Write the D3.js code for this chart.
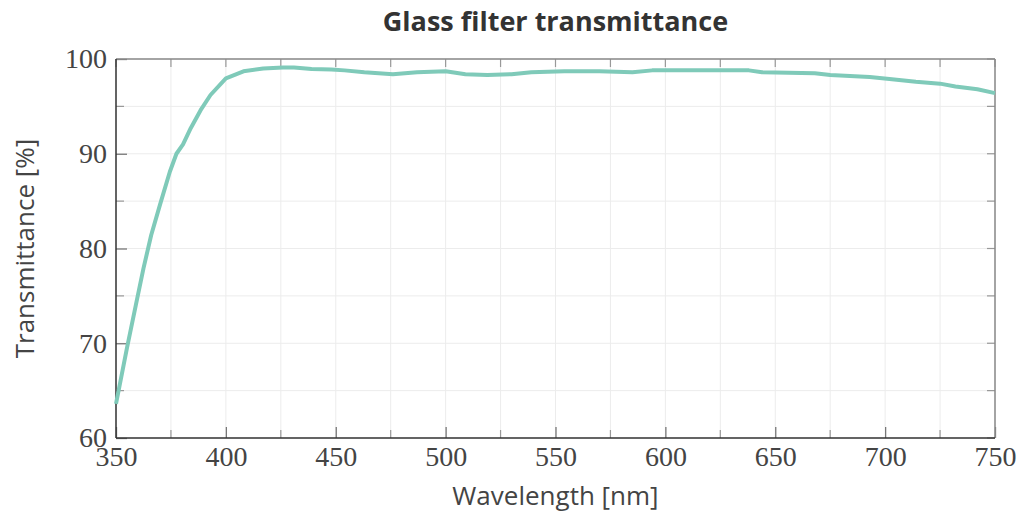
<!DOCTYPE html>
<html>
<head>
<meta charset="utf-8">
<script src="https://cdn.jsdelivr.net/npm/d3@7"></script>
<style>
  body { margin: 0; background: #fff; }
  svg { display: block; }
</style>
</head>
<body>
<div id="chart"></div>
<script>
// Data
const wavelengths = [350, 355, 359, 362.5, 366, 370, 374.5, 377.5, 380.5, 384, 388.5, 393, 400, 408, 417, 426, 431,
    439, 448, 454, 463, 476, 487, 500, 509, 519, 530, 539, 554, 570, 585, 594, 603, 614, 638, 644,
    668, 675, 693, 702, 714, 725, 732, 742, 750];
const transmittance = [63.6, 69.5, 74.0, 77.9, 81.4, 84.6, 88.1, 90.0, 91.0, 92.7, 94.6, 96.2, 97.95, 98.7, 99.0, 99.1, 99.1,
    98.95, 98.9, 98.8, 98.6, 98.4, 98.6, 98.7, 98.4, 98.3, 98.4, 98.6, 98.7, 98.7, 98.6, 98.8, 98.8, 98.8, 98.8, 98.6,
    98.5, 98.3, 98.1, 97.9, 97.6, 97.4, 97.1, 96.8, 96.4];
const xTicks = [350, 400, 450, 500, 550, 600, 650, 700, 750];
const xMinorTicks = [375, 425, 475, 525, 575, 625, 675, 725];
const yTicks = [60, 70, 80, 90, 100];
const yMinorTicks = [65, 75, 85, 95];

const width = 1020, height = 515;
const margin = { top: 59, right: 25, bottom: 77, left: 116 };
const x0 = margin.left, x1 = width - margin.right;
const y0 = height - margin.bottom, y1 = margin.top;

const svg = d3.select("#chart").append("svg")
    .attr("width", width)
    .attr("height", height);

const x = d3.scaleLinear().domain([350, 750]).range([x0, x1]);
const y = d3.scaleLinear().domain([60, 100]).range([y0, y1]);

// Grid
const grid = svg.append("g").attr("stroke", "#ececec").attr("stroke-width", 1);
grid.selectAll(".gx").data(xTicks.concat(xMinorTicks)).join("line")
    .attr("x1", d => x(d)).attr("x2", d => x(d))
    .attr("y1", y0).attr("y2", y1);
grid.selectAll(".gy").data(yTicks.concat(yMinorTicks)).join("line")
    .attr("y1", d => y(d)).attr("y2", d => y(d))
    .attr("x1", x0).attr("x2", x1);

// Bottom and left axes: ticks pointing inwards, serif labels
const bottom = svg.append("g").attr("transform", `translate(0,${y0})`)
    .call(d3.axisBottom(x).tickValues(xTicks).tickSize(-11).tickFormat(d3.format("d")));
const left = svg.append("g").attr("transform", `translate(${x0},0)`)
    .call(d3.axisLeft(y).tickValues(yTicks).tickSize(-11).tickPadding(9).tickFormat(d3.format("d")));

[bottom, left].forEach(a => {
    a.select(".domain").remove();
    a.selectAll(".tick line").attr("stroke", "#777").attr("stroke-width", 1.3);
    a.selectAll(".tick text")
        .attr("fill", "#444")
        .style("font-family", "'Liberation Serif', serif")
        .style("font-size", "28px");
});
bottom.selectAll(".tick text").attr("dy", "0.35em").attr("y", 18);

// Minor ticks on bottom/left, all ticks on top/right
const ticks = svg.append("g").attr("stroke", "#999").attr("stroke-width", 1.2);
ticks.selectAll(".bm").data(xMinorTicks).join("line")
    .attr("x1", d => x(d)).attr("x2", d => x(d)).attr("y1", y0).attr("y2", y0 - 8);
ticks.selectAll(".lm").data(yMinorTicks).join("line")
    .attr("y1", d => y(d)).attr("y2", d => y(d)).attr("x1", x0).attr("x2", x0 + 8);
ticks.selectAll(".tm").data(xTicks.concat(xMinorTicks)).join("line")
    .attr("x1", d => x(d)).attr("x2", d => x(d)).attr("y1", y1).attr("y2", y1 + 8);
ticks.selectAll(".rm").data(yTicks.concat(yMinorTicks)).join("line")
    .attr("y1", d => y(d)).attr("y2", d => y(d)).attr("x1", x1).attr("x2", x1 - 8);

// Frame
svg.append("line").attr("x1", x0).attr("x2", x1).attr("y1", y1).attr("y2", y1)
    .attr("stroke", "#888").attr("stroke-width", 1.5);
svg.append("line").attr("x1", x1).attr("x2", x1).attr("y1", y1).attr("y2", y0)
    .attr("stroke", "#888").attr("stroke-width", 1.5);
svg.append("line").attr("x1", x0).attr("x2", x1).attr("y1", y0).attr("y2", y0)
    .attr("stroke", "#333").attr("stroke-width", 1.5);
svg.append("line").attr("x1", x0).attr("x2", x0).attr("y1", y1).attr("y2", y0)
    .attr("stroke", "#333").attr("stroke-width", 1.5);

// Curve
const line = d3.line()
    .x(d => x(d[0]))
    .y(d => y(d[1]));

svg.append("path")
    .datum(d3.zip(wavelengths, transmittance))
    .attr("fill", "none")
    .attr("stroke", "#7fcab9")
    .attr("stroke-width", 4)
    .attr("stroke-linejoin", "round")
    .attr("d", line);

// Titles
svg.append("text")
    .attr("x", (x0 + x1) / 2).attr("y", 31)
    .attr("text-anchor", "middle")
    .style("font-family", "'Open Sans', sans-serif")
    .style("font-weight", "bold")
    .style("font-size", "27px")
    .attr("fill", "#333")
    .text("Glass filter transmittance");

svg.append("text")
    .attr("x", (x0 + x1) / 2).attr("y", 505)
    .attr("text-anchor", "middle")
    .style("font-family", "'Open Sans', sans-serif")
    .style("font-size", "26px")
    .attr("fill", "#444")
    .text("Wavelength [nm]");

svg.append("text")
    .attr("transform", `translate(34,${(y0 + y1) / 2}) rotate(-90)`)
    .attr("text-anchor", "middle")
    .style("font-family", "'Open Sans', sans-serif")
    .style("font-size", "26px")
    .attr("fill", "#444")
    .text("Transmittance [%]");
</script>
</body>
</html>
